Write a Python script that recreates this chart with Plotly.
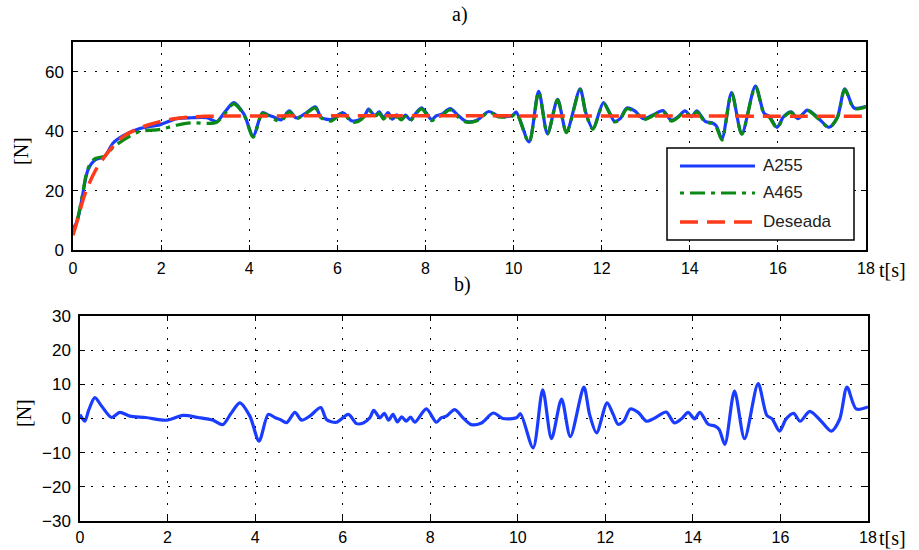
import plotly.graph_objects as go

# ---------------- data ----------------
# common time base [s]
t = [0.0, 0.11, 0.2, 0.34, 0.5, 0.72, 0.91, 1.14, 1.5, 1.98, 2.35, 2.7, 3.04, 3.26,
     3.45, 3.65, 3.88, 4.09, 4.3, 4.45, 4.57, 4.72, 4.91, 5.06, 5.25, 5.5, 5.63, 5.86,
     6.13, 6.32, 6.47, 6.62, 6.71, 6.85, 6.95, 7.05, 7.15, 7.25, 7.35, 7.45, 7.55, 7.65,
     7.91, 8.14, 8.25, 8.37, 8.56, 8.75, 8.94, 9.17, 9.44, 9.66, 9.97, 10.06, 10.35, 10.57,
     10.77, 11.0, 11.2, 11.51, 11.64, 11.8, 12.04, 12.18, 12.29, 12.42, 12.57, 12.75, 12.94,
     13.09, 13.2, 13.39, 13.58, 13.74, 13.89, 14.04, 14.16, 14.35, 14.5, 14.6, 14.73, 14.95,
     15.18, 15.49, 15.69, 15.81, 15.98, 16.13, 16.3, 16.45, 16.67, 16.93, 17.16, 17.35,
     17.52, 17.73, 18.0]

# measured force, actuator A255 [N]
a255 = [6.5, 10.5, 17.0, 27.0, 30.3, 31.5, 36.0, 38.5, 40.8, 42.2, 44.2, 44.5, 44.5, 43.2,
        46.5, 49.6, 45.7, 38.4, 46.2, 45.3, 44.7, 43.8, 46.8, 44.5, 45.7, 48.2, 44.7, 43.9,
        46.2, 43.5, 43.7, 45.2, 47.4, 45.2, 46.5, 44.5, 46.2, 44.0, 45.5, 44.2, 45.4, 43.9,
        47.8, 43.9, 45.2, 45.7, 47.6, 45.2, 43.2, 43.7, 46.6, 45.0, 45.2, 46.4, 36.4, 53.4,
        39.1, 50.7, 39.7, 54.2, 46.2, 40.8, 49.6, 46.2, 43.3, 44.2, 47.8, 46.8, 44.2,
        44.9, 45.7, 46.9, 43.7, 44.9, 46.8, 44.9, 46.8, 43.3, 42.8, 41.8, 37.4, 53.0,
        39.1, 55.2, 45.9, 44.9, 41.3, 44.9, 46.5, 44.2, 47.1, 44.2, 41.3, 44.7,
        54.2, 47.8, 48.4]

# measured force, actuator A465 [N]
a465 = [7.0, 11.0, 17.5, 27.5, 30.8, 31.6, 34.5, 37.0, 39.8, 40.6, 42.0, 42.8, 42.6, 43.0,
        46.0, 49.2, 45.5, 38.0, 46.0, 45.0, 44.0, 43.3, 46.5, 44.2, 45.5, 47.8, 44.5, 43.4,
        46.0, 43.0, 43.2, 45.0, 47.2, 45.0, 46.0, 44.0, 45.8, 43.5, 45.0, 43.8, 45.0, 43.5,
        47.5, 43.5, 44.8, 45.3, 47.2, 44.6, 43.0, 43.5, 46.4, 44.8, 45.0, 46.2, 36.2, 53.2,
        39.0, 50.5, 39.5, 54.0, 46.0, 40.6, 49.3, 46.0, 43.1, 44.0, 47.5, 46.5, 43.9,
        44.6, 45.5, 46.6, 43.4, 44.7, 46.5, 44.6, 46.5, 43.0, 42.6, 41.4, 37.0, 52.8,
        39.0, 55.0, 45.6, 44.6, 41.0, 44.7, 46.3, 44.0, 46.9, 44.0, 41.2, 44.5,
        54.0, 47.6, 48.2]

# force error (A255 - reference) [N]
err = [1.2, -0.8, 2.5, 6.1, 3.5, 0.3, 1.8, 0.7, 0.3, -0.5, 0.9, 0.3, -0.5, -1.8,
       1.5, 4.6, 0.7, -6.6, 1.2, 0.3, -0.3, -1.2, 1.8, -0.5, 0.7, 3.2, -0.3, -1.1,
       1.2, -1.5, -1.3, 0.2, 2.4, 0.2, 1.5, -0.5, 1.2, -1.0, 0.5, -0.8, 0.4, -1.1,
       2.8, -1.1, 0.2, 0.7, 2.6, 0.2, -1.8, -1.3, 1.6, 0.0, 0.2, 1.4, -8.6, 8.4,
       -5.9, 5.7, -5.3, 9.2, 1.2, -4.2, 4.6, 1.2, -1.7, -0.8, 2.8, 1.8, -0.8,
       -0.1, 0.7, 1.9, -1.3, -0.1, 1.8, -0.1, 1.8, -1.7, -2.2, -3.2, -7.6, 8.0,
       -5.9, 10.2, 0.9, -0.1, -3.7, -0.1, 1.5, -0.8, 2.1, -0.8, -3.7, -0.3,
       9.2, 2.8, 3.4]

# reference force
t_ref = [0.0, 0.1, 0.2, 0.3, 0.4, 0.5, 0.6, 0.8, 1.0, 1.2, 1.5, 1.8, 2.0, 2.3, 2.6, 3.0, 18.0]
ref = [5.0, 10.0, 15.5, 20.0, 23.5, 26.5, 29.0, 33.0, 36.5, 38.8, 41.0, 42.5, 43.3, 44.2, 44.7, 45.0, 45.0]

x_ticks = [0, 2, 4, 6, 8, 10, 12, 14, 16, 18]
labels = ["A255", "A465", "Deseada"]

# ---------------- styling ----------------
W, H = 919, 550
BLUE, GREEN, RED = "#1a3cff", "#0a8a14", "#ff3a1a"
SANS = "Liberation Sans, Arial, sans-serif"
SERIF = "Liberation Serif, DejaVu Serif, serif"
DASH_RED = "18px,9px"
DASH_GREEN = "4px,6px,15px,6px"


def px(x):
    return x / W


def py(y):
    return 1 - y / H


fig = go.Figure()
fig.add_trace(go.Scatter(x=t, y=a255, mode="lines", name=labels[0], showlegend=False,
                         line=dict(color=BLUE, width=3.2, shape="spline", smoothing=0.8),
                         xaxis="x", yaxis="y"))
fig.add_trace(go.Scatter(x=t, y=a465, mode="lines", name=labels[1], showlegend=False,
                         line=dict(color=GREEN, width=3.2, dash=DASH_GREEN, shape="spline", smoothing=0.8),
                         xaxis="x", yaxis="y"))
fig.add_trace(go.Scatter(x=t_ref, y=ref, mode="lines", name=labels[2], showlegend=False,
                         line=dict(color=RED, width=3.5, dash=DASH_RED, shape="spline", smoothing=0.6),
                         xaxis="x", yaxis="y"))
fig.add_trace(go.Scatter(x=t, y=err, mode="lines", showlegend=False,
                         line=dict(color=BLUE, width=3.2, shape="spline", smoothing=0.8),
                         xaxis="x2", yaxis="y2"))

axis_common = dict(showline=True, linecolor="black", linewidth=1.5, mirror="allticks",
                   ticks="inside", ticklen=5, tickcolor="black", tickwidth=1,
                   showgrid=True, gridcolor="black", gridwidth=1, griddash="2px,9px",
                   zeroline=False, automargin=False)
yfont = dict(family=SANS, size=17, color="black")
xfont = dict(family=SANS, size=16, color="black")

fig.update_layout(
    width=W, height=H, autosize=False, margin=dict(l=0, r=0, t=0, b=0, pad=0),
    paper_bgcolor="white", plot_bgcolor="white", showlegend=False,
    xaxis=dict(domain=[px(73), px(866)], range=[0, 18], tickvals=x_ticks,
               anchor="y", ticklabelstandoff=3, tickfont=xfont, **axis_common),
    yaxis=dict(domain=[py(250), py(42)], range=[0, 70], tickvals=[0, 20, 40, 60],
               anchor="x", ticklabelstandoff=4, tickfont=yfont, **axis_common),
    xaxis2=dict(domain=[px(80), px(868)], range=[0, 18], tickvals=x_ticks,
                anchor="y2", ticklabelstandoff=1, tickfont=xfont, **axis_common),
    yaxis2=dict(domain=[py(521), py(316)], range=[-30, 30],
                tickvals=[-30, -20, -10, 0, 10, 20, 30],
                anchor="x2", ticklabelstandoff=4, tickfont=yfont, **axis_common),
)

# panel titles and axis labels
ann = [
    dict(text="a)", x=px(460), y=py(14)),
    dict(text="b)", x=px(462), y=py(284)),
    dict(text="t[s]", x=px(892), y=py(270)),
    dict(text="t[s]", x=px(892), y=py(538)),
    dict(text="[N]", x=px(21), y=py(151), textangle=-90),
    dict(text="[N]", x=px(24), y=py(413), textangle=-90),
]
for a in ann:
    fig.add_annotation(xref="paper", yref="paper", showarrow=False,
                       xanchor="center", yanchor="middle",
                       font=dict(family=SERIF, size=20, color="black"), **a)

# legend box for panel a)
fig.add_shape(type="rect", xref="paper", yref="paper",
              x0=px(667), x1=px(854), y0=py(240), y1=py(148),
              line=dict(color="black", width=1.5), fillcolor="white", layer="above")
rows = [(166, BLUE, "solid", 3.2), (193, GREEN, DASH_GREEN, 3.2), (222, RED, DASH_RED, 3.5)]
for (yy, col, dash, w), lab in zip(rows, labels):
    fig.add_shape(type="line", xref="paper", yref="paper",
                  x0=px(680), x1=px(755), y0=py(yy), y1=py(yy),
                  line=dict(color=col, width=w, dash=dash), layer="above")
    fig.add_annotation(xref="paper", yref="paper", showarrow=False,
                       x=px(761), y=py(yy), xanchor="left", yanchor="middle",
                       text=lab, font=dict(family=SANS, size=17, color="#222222"))

fig.write_html("out.html")
